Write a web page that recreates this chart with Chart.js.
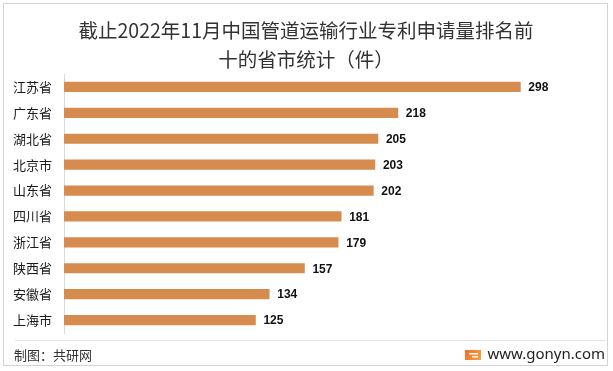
<!DOCTYPE html>
<html>
<head>
<meta charset="utf-8">
<script src="https://cdn.jsdelivr.net/npm/chart.js@4.4.1/dist/chart.umd.min.js"></script>
<style>
html,body{margin:0;padding:0;background:#fff;}
canvas{display:block;}
</style>
</head>
<body>
<canvas id="c" width="613" height="371"></canvas>
<script>
const titleLines = ["截止2022年11月中国管道运输行业专利申请量排名前", "十的省市统计（件）"];
const categories = ["江苏省","广东省","湖北省","北京市","山东省","四川省","浙江省","陕西省","安徽省","上海市"];
const values = [298,218,205,203,202,181,179,157,134,125];
const sourceText = "制图：共研网";
const siteText = "www.gonyn.com";

const CJK = '"Noto Sans CJK SC","Noto Sans",sans-serif';

const decor = {
  id: 'decor',
  beforeDraw(chart) {
    const ctx = chart.ctx;
    ctx.save();
    ctx.fillStyle = '#fff';
    ctx.fillRect(0,0,chart.width,chart.height);
    ctx.restore();
  },
  afterDraw(chart) {
    const ctx = chart.ctx;
    ctx.save();
    // outer border
    ctx.strokeStyle = '#d4d4d4';
    ctx.lineWidth = 1;
    ctx.strokeRect(3.5, 3.5, 604, 362);
    // title
    ctx.fillStyle = '#333';
    ctx.font = '19.5px ' + CJK;
    ctx.textAlign = 'center';
    ctx.textBaseline = 'middle';
    ctx.fillText(titleLines[0], 306, 31);
    ctx.fillText(titleLines[1], 306, 60);
    // footer separator
    ctx.strokeStyle = '#e3e3e3';
    ctx.beginPath();
    ctx.moveTo(15, 340.5);
    ctx.lineTo(606, 340.5);
    ctx.stroke();
    // footer texts
    ctx.fillStyle = '#333';
    ctx.font = '13px ' + CJK;
    ctx.textAlign = 'left';
    ctx.fillText(sourceText, 14, 355);
    ctx.fillStyle = '#222';
    ctx.font = '15px "Noto Sans",sans-serif';
    ctx.textAlign = 'right';
    ctx.fillText(siteText, 605, 355);
    // logo
    const g = ctx.createLinearGradient(465, 350, 481, 360);
    g.addColorStop(0, '#f26b2a');
    g.addColorStop(1, '#f9a53b');
    ctx.fillStyle = g;
    ctx.fillRect(465, 350, 16, 10);
    ctx.fillStyle = '#fff';
    ctx.fillRect(469, 353, 9, 1.5);
    ctx.fillRect(472, 356, 6, 1.5);
    ctx.restore();
  }
};

const valueLabels = {
  id: 'valueLabels',
  afterDatasetsDraw(chart) {
    const ctx = chart.ctx;
    const meta = chart.getDatasetMeta(0);
    ctx.save();
    ctx.fillStyle = '#111';
    ctx.font = 'bold 12px "Liberation Sans",Arial,sans-serif';
    ctx.textAlign = 'left';
    ctx.textBaseline = 'middle';
    meta.data.forEach((bar, i) => {
      ctx.fillText(String(values[i]), bar.x + 8, bar.y + 1);
    });
    ctx.restore();
  }
};

new Chart(document.getElementById('c'), {
  type: 'bar',
  data: {
    labels: categories,
    datasets: [{
      data: values,
      backgroundColor: '#D68C4E',
      borderWidth: 0,
      barThickness: 9.5
    }]
  },
  options: {
    indexAxis: 'y',
    responsive: false,
    animation: false,
    devicePixelRatio: 1,
    layout: { padding: { top: 74, bottom: 38, left: 0, right: 13 } },
    plugins: { legend: { display: false }, tooltip: { enabled: false }, title: { display: false } },
    scales: {
      x: { display: false, min: 0, max: 350 },
      y: {
        afterFit(scale) { scale.width = 64; },
        grid: { display: false, drawTicks: false },
        border: { display: true, color: '#d9d9d9', width: 1 },
        ticks: { color: '#1a1a1a', font: { size: 13, family: CJK }, padding: 12 }
      }
    }
  },
  plugins: [decor, valueLabels]
});
</script>
</body>
</html>
